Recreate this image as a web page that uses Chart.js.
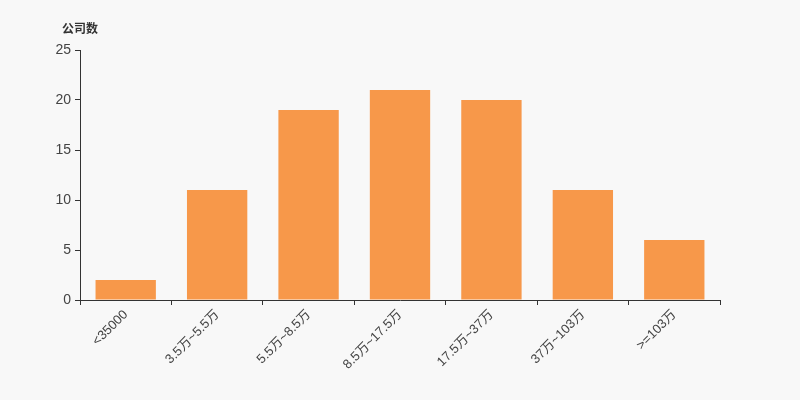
<!DOCTYPE html>
<html>
<head>
<meta charset="utf-8">
<script src="https://cdn.jsdelivr.net/npm/chart.js@4"></script>
<style>
  html, body { margin: 0; padding: 0; background: #f8f8f8; }
  #wrap { width: 800px; height: 400px; }
</style>
</head>
<body>
<div id="wrap"><canvas id="chart"></canvas></div>
<script>
// data
const categories = ["<35000", "3.5万~5.5万", "5.5万~8.5万", "8.5万~17.5万", "17.5万~37万", "37万~103万", ">=103万"];
const companyCounts = [2, 11, 19, 21, 20, 11, 6];
const yTitle = "公司数";

const fontFamily = "Arial, 'Liberation Sans', 'Noto Sans CJK SC', sans-serif";

// draws the y axis title above the axis
const yTitlePlugin = {
    id: "yTitle",
    afterDraw(chart) {
        const ctx = chart.ctx;
        const y = chart.scales.y;
        ctx.save();
        ctx.font = "bold 12px 'Noto Sans CJK SC', sans-serif";
        ctx.fillStyle = "#333";
        ctx.textAlign = "center";
        ctx.textBaseline = "middle";
        ctx.fillText(yTitle, y.right, y.top - 22);
        ctx.restore();
    }
};

new Chart(document.getElementById("chart"), {
    type: "bar",
    data: {
        labels: categories,
        datasets: [{
            data: companyCounts,
            backgroundColor: "#f7984a",
            barPercentage: 0.66,
            categoryPercentage: 1.0,
        }],
    },
    options: {
        responsive: true,
        maintainAspectRatio: false,
        animation: false,
        layout: { padding: { left: 0, right: 80, top: 50, bottom: 0 } },
        plugins: {
            legend: { display: false },
            tooltip: { enabled: false },
        },
        scales: {
            x: {
                afterFit(scale) { scale.height = 100; },
                grid: { drawOnChartArea: false, drawTicks: true, tickLength: 5, color: "#333", offset: true },
                border: { color: "#333", width: 1 },
                ticks: {
                    color: "#444",
                    font: { size: 13, family: fontFamily },
                    maxRotation: 45,
                    minRotation: 45,
                    autoSkip: false,
                    padding: 2,
                },
            },
            y: {
                min: 0,
                max: 25,
                afterFit(scale) { scale.width = 80; },
                grid: { drawOnChartArea: false, drawTicks: true, tickLength: 5, color: "#333" },
                border: { color: "#333", width: 1 },
                ticks: {
                    stepSize: 5,
                    color: "#444",
                    font: { size: 14, family: fontFamily },
                    padding: 4,
                },
            },
        },
    },
    plugins: [yTitlePlugin],
});
</script>
</body>
</html>
